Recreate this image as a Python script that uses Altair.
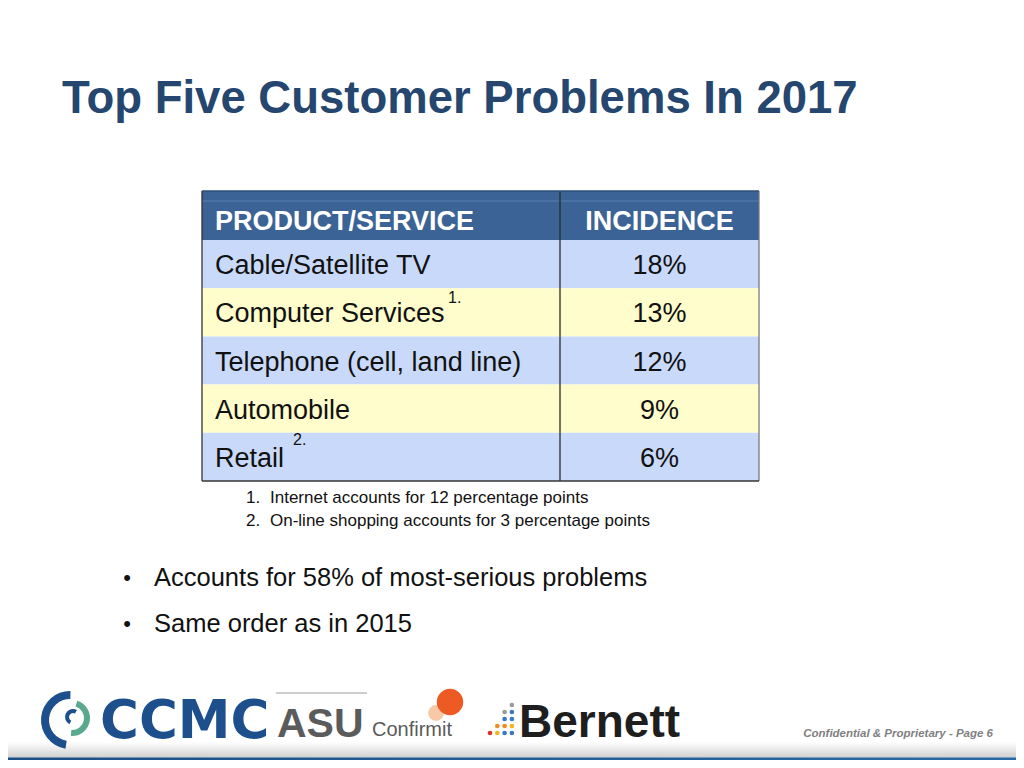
import altair as alt
import pandas as pd

# ---------------- data ----------------
title = "Top Five Customer Problems In 2017"
headers = ["PRODUCT/SERVICE", "INCIDENCE"]
products = ["Cable/Satellite TV", "Computer Services", "Telephone (cell, land line)", "Automobile", "Retail"]
incidence = [18, 13, 12, 9, 6]
superscripts = ["", "1.", "", "", "2."]
footnote_nums = ["1.", "2."]
footnotes = ["Internet accounts for 12 percentage points",
             "On-line shopping accounts for 3 percentage points"]
bullets = ["Accounts for 58% of most-serious problems", "Same order as in 2015"]
footer = "Confidential & Proprietary - Page 6"
logo_words = ["CCMC", "ASU", "Confirmit", "Bernett"]

# ---------------- layout ----------------
W, H = 1008, 752
FONT = "Liberation Sans"
TX0, TXM, TX1 = 202, 560, 759
HEAD_TOP, ROW_TOP, ROW_H = 191, 240, 48.2
ROW_FILLS = ["#c9d9f9", "#fefdcb"]
SUP_X = [None, 448, None, None, 293]
SUP_DY = [0, -16, 0, 0, -19]


def X(f="x"):
    return alt.X(f"{f}:Q", scale=alt.Scale(domain=[8, 8 + W], nice=False, zero=False), axis=None)


def Y(f="y"):
    return alt.Y(f"{f}:Q", scale=alt.Scale(domain=[8 + H, 8], nice=False, zero=False), axis=None)


def text_layer(df, **kw):
    return alt.Chart(df).mark_text(font=kw.pop("font", FONT), **kw).encode(x=X(), y=Y(), text="t:N")


layers = []

# background bottom gradient band & blue bar
bg = pd.DataFrame({"x": [8], "x2": [8 + W], "y": [742], "y2": [758]})
layers.append(alt.Chart(bg).mark_rect(color=alt.Gradient(
    gradient="linear", x1=0, x2=0, y1=0, y2=1,
    stops=[alt.GradientStop(offset=0, color="#ffffff"), alt.GradientStop(offset=1, color="#cfcfcf")]
)).encode(x=X(), x2=alt.X2("x2:Q"), y=Y(), y2=alt.Y2("y2:Q")))
bar = pd.DataFrame({"x": [8], "x2": [8 + W], "y": [757.5], "y2": [760]})
layers.append(alt.Chart(bar).mark_rect(color=alt.Gradient(
    gradient="linear", x1=0, x2=1, y1=0, y2=0,
    stops=[alt.GradientStop(offset=0, color="#1b4f86"), alt.GradientStop(offset=1, color="#2a6aa6")]
)).encode(x=X(), x2=alt.X2("x2:Q"), y=Y(), y2=alt.Y2("y2:Q")))

# title
layers.append(text_layer(pd.DataFrame({"x": [62], "y": [113], "t": [title]}),
                         align="left", baseline="alphabetic", fontSize=45.5, fontWeight="bold", color="#25476f"))

# ---------------- table ----------------
n = len(products)
rows = pd.DataFrame({
    "product": products,
    "inc": [f"{v}%" for v in incidence],
    "i": list(range(n)),
})
rows["y"] = ROW_TOP + rows["i"] * ROW_H
rows["y2"] = rows["y"] + ROW_H
rows["ym"] = rows["y"] + ROW_H / 2 + 2
rows["fill"] = [ROW_FILLS[i % 2] for i in range(n)]
rows["x"] = TX0
rows["x2"] = TX1

head = pd.DataFrame({"x": [TX0], "x2": [TX1], "y": [HEAD_TOP], "y2": [ROW_TOP]})
layers.append(alt.Chart(head).mark_rect(color="#3b6395").encode(
    x=X(), x2=alt.X2("x2:Q"), y=Y(), y2=alt.Y2("y2:Q")))
layers.append(alt.Chart(rows).mark_rect().encode(
    x=X(), x2=alt.X2("x2:Q"), y=Y(), y2=alt.Y2("y2:Q"),
    color=alt.Color("fill:N", scale=None)))

# header thin highlight line
hl = pd.DataFrame({"x": [TX0], "x2": [TX1], "y": [HEAD_TOP + 10]})
layers.append(alt.Chart(hl).mark_rule(color="#5b7fae", strokeWidth=1).encode(
    x=X(), x2=alt.X2("x2:Q"), y=Y()))

# borders
vlines = pd.DataFrame({"x": [TX0, TXM, TX1], "y": [HEAD_TOP] * 3, "y2": [ROW_TOP + n * ROW_H] * 3,
                       "c": ["#333333", "#2a2a2a", "#7a7a7a"]})
layers.append(alt.Chart(vlines).mark_rule(strokeWidth=1.3).encode(
    x=X(), y=Y(), y2=alt.Y2("y2:Q"), color=alt.Color("c:N", scale=None)))
hlines = pd.DataFrame({"x": [TX0, TX0], "x2": [TX1, TX1], "y": [HEAD_TOP, ROW_TOP + n * ROW_H],
                       "c": ["#2f4f78", "#333333"]})
layers.append(alt.Chart(hlines).mark_rule(strokeWidth=1.3).encode(
    x=X(), x2=alt.X2("x2:Q"), y=Y(), color=alt.Color("c:N", scale=None)))

# header text
hdr_y = (HEAD_TOP + ROW_TOP) / 2 + 6
layers.append(text_layer(pd.DataFrame({"x": [215], "y": [hdr_y], "t": [headers[0]]}),
                         align="left", baseline="middle", fontSize=27, fontWeight="bold", color="white"))
layers.append(text_layer(pd.DataFrame({"x": [(TXM + TX1) / 2], "y": [hdr_y], "t": [headers[1]]}),
                         align="center", baseline="middle", fontSize=27, fontWeight="bold", color="white"))

# row text
prod_df = pd.DataFrame({"x": [215] * n, "y": rows["ym"], "t": products})
layers.append(text_layer(prod_df, align="left", baseline="middle", fontSize=27, color="#111111"))
inc_df = pd.DataFrame({"x": [(TXM + TX1) / 2] * n, "y": rows["ym"], "t": rows["inc"]})
layers.append(text_layer(inc_df, align="center", baseline="middle", fontSize=27, color="#111111"))

sup_idx = [i for i in range(n) if superscripts[i]]
sup_df = pd.DataFrame({"x": [SUP_X[i] for i in sup_idx],
                       "y": [rows["ym"][i] + SUP_DY[i] for i in sup_idx],
                       "t": [superscripts[i] for i in sup_idx]})
layers.append(text_layer(sup_df, align="left", baseline="middle", fontSize=16, color="#111111"))

# footnotes
fn_y = [498, 521]
layers.append(text_layer(pd.DataFrame({"x": [246, 246], "y": fn_y, "t": footnote_nums}),
                         align="left", baseline="middle", fontSize=17, color="#111111"))
layers.append(text_layer(pd.DataFrame({"x": [270, 270], "y": fn_y, "t": footnotes}),
                         align="left", baseline="middle", fontSize=17, color="#111111"))

# bullets
b_y = [578, 624]
layers.append(text_layer(pd.DataFrame({"x": [127, 127], "y": b_y, "t": ["•", "•"]}),
                         align="center", baseline="middle", fontSize=22, color="#111111"))
layers.append(text_layer(pd.DataFrame({"x": [154, 154], "y": b_y, "t": bullets}),
                         align="left", baseline="middle", fontSize=25.5, color="#111111"))

# footer
layers.append(text_layer(pd.DataFrame({"x": [993], "y": [737], "t": [footer]}),
                         align="right", baseline="alphabetic", fontSize=11.5, fontWeight="bold",
                         fontStyle="italic", color="#7f7f7f"))

# ---------------- logos (approximate) ----------------
arcs = pd.DataFrame({
    "x": [70, 72, 73], "y": [720, 718, 717],
    "r1": [21, 12, 4], "r2": [29, 18, 8],
    "t1": [3.3, 0.3, 3.6], "t2": [6.3, 3.2, 6.8],
    "c": ["#1d4f8c", "#5aa98f", "#1d4f8c"],
})
layers.append(alt.Chart(arcs).mark_arc().encode(
    x=X(), y=Y(), radius=alt.Radius("r2:Q", scale=None), radius2=alt.Radius2("r1:Q"),
    theta=alt.Theta("t1:Q", scale=None), theta2=alt.Theta2("t2:Q"),
    color=alt.Color("c:N", scale=None)))

layers.append(text_layer(pd.DataFrame({"x": [100], "y": [738], "t": [logo_words[0]]}),
                         font="DejaVu Sans", align="left", baseline="alphabetic", fontSize=53,
                         fontWeight="bold", color="#1d4f8c"))
asu_line = pd.DataFrame({"x": [276], "x2": [367], "y": [693]})
layers.append(alt.Chart(asu_line).mark_rule(color="#9a9a9a", strokeWidth=1).encode(
    x=X(), x2=alt.X2("x2:Q"), y=Y()))
layers.append(text_layer(pd.DataFrame({"x": [277], "y": [737], "t": [logo_words[1]]}),
                         align="left", baseline="alphabetic", fontSize=41, fontWeight="bold",
                         color="#5b5b5b"))
balls = pd.DataFrame({"x": [436, 450], "y": [713, 702], "s": [250, 700], "c": ["#f7c9a6", "#ee5a24"]})
layers.append(alt.Chart(balls).mark_circle(opacity=1).encode(
    x=X(), y=Y(), size=alt.Size("s:Q", scale=None), color=alt.Color("c:N", scale=None)))
layers.append(text_layer(pd.DataFrame({"x": [372], "y": [736], "t": [logo_words[2]]}),
                         align="left", baseline="alphabetic", fontSize=20, color="#5a5a5a"))

dot_cols = [0, 1, 1, 2, 2, 2, 2, 3, 3, 3, 3, 3]
dot_rows = [0, 0, 1, 0, 1, 2, 3, 0, 1, 2, 3, 4]
dot_cols_c = ["#d9342b", "#f2b51c", "#f08a24", "#3a78c2", "#f08a24", "#3a78c2", "#9a9a9a",
              "#3a78c2", "#f2b51c", "#3a78c2", "#3a78c2", "#9a9a9a"]
dots = pd.DataFrame({"x": [490 + 7.3 * c for c in dot_cols], "y": [733 - 7 * r for r in dot_rows],
                     "c": dot_cols_c})
layers.append(alt.Chart(dots).mark_circle(size=22, opacity=1).encode(
    x=X(), y=Y(), color=alt.Color("c:N", scale=None)))
layers.append(text_layer(pd.DataFrame({"x": [519], "y": [737], "t": [logo_words[3]]}),
                         align="left", baseline="alphabetic", fontSize=46, fontWeight="bold",
                         color="#1e1e1e"))

chart = alt.layer(*layers).properties(
    width=W, height=H, padding=0, autosize=alt.AutoSizeParams(type="none"), background="white"
).configure_view(stroke=None)

chart.save("out.html", embed_options={"renderer": "svg", "actions": False})
